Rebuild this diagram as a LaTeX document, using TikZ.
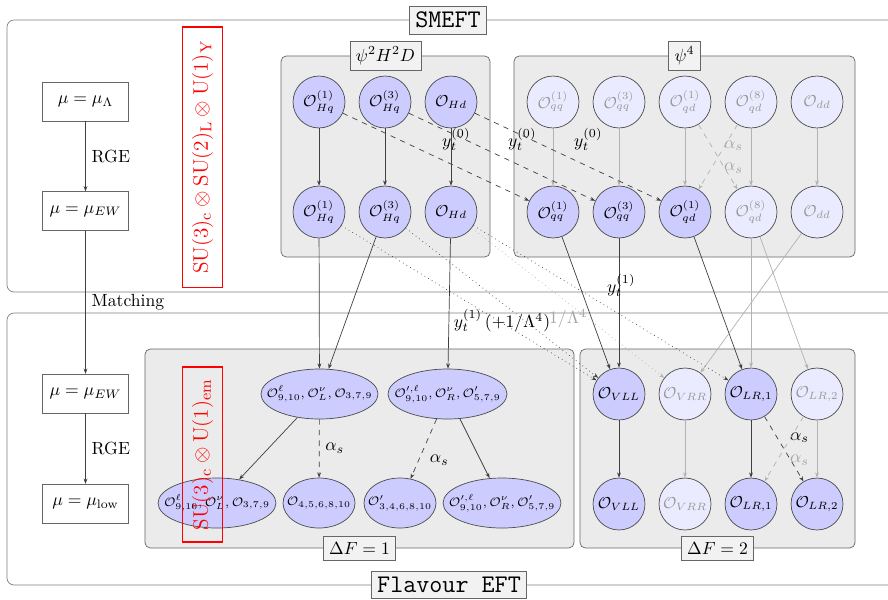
\documentclass[tikz,border=0pt]{standalone}
\usetikzlibrary{shapes.geometric,arrows.meta}
\newcommand\fitlbl[1]{\makebox[0pt]{#1}}
\begin{document}
\begin{tikzpicture}[x=0.568pt,y=-0.568pt,
  op/.style={circle, draw=black!70, fill=blue!20, minimum size=29.5pt, inner sep=0pt, font=\small},
  opoff/.style={op, fill=blue!8, text=black!40},
  grp/.style={ellipse, draw=black!70, fill=blue!20, minimum height=28.4pt, inner sep=0pt, font=\scriptsize},
  mubox/.style={draw=black!60, fill=white, minimum width=48.6pt, minimum height=22pt},
  frame/.style={draw=black!50, rounded corners=4pt},
  panel/.style={draw=black!60, fill=black!8, rounded corners=3pt, inner sep=0pt},
  tag/.style={draw=black!60, fill=black!5},
  gauge/.style={draw=red, text=red, rotate=90, minimum height=22.2pt, inner sep=0pt, line width=0.6pt, font=\fontsize{12.5}{15}\selectfont},
  flow/.style={-{Stealth[length=3pt,width=2.2pt]}, draw=black!75},
  flowoff/.style={flow, draw=black!30},
  off/.style={text=black!35}]
\clip (0,0) rectangle (888,599);

% outer frames for the two theories
\draw[frame] (7,20) rectangle (905,292);
\draw[frame] (7,313) rectangle (905,585);

% operator class panels
\node[panel, minimum width=118.7pt, minimum height=114.2pt] (psiA) at (385.5,156.5) {};
\node[panel, minimum width=193.7pt, minimum height=114.2pt] (psiB) at (684.5,156.5) {};
\node[panel, minimum width=243.7pt, minimum height=113pt] (dfA) at (359.5,448.5) {};
\node[panel, minimum width=156.2pt, minimum height=113pt] (dfB) at (717.5,448.5) {};

% scale boxes
\node[mubox] (muL) at (85.5,101.5) {$\mu=\mu_\Lambda$};
\node[mubox] (muEWa) at (85.5,211) {$\mu=\mu_{EW}$};
\node[mubox] (muEWb) at (85.5,393.5) {$\mu=\mu_{EW}$};
\node[mubox] (mulow) at (85.5,503.5) {$\mu=\mu_{\mathrm{low}}$};
\draw[flow] (muL) -- (muEWa) node[midway, right] {RGE};
\draw[flow] (muEWa) -- (muEWb) node[midway, right] {Matching};
\draw[flow] (muEWb) -- (mulow) node[midway, right] {RGE};

% SMEFT operators
\node[op] (Hq1t) at (319,102) {$\mathcal{O}_{Hq}^{(1)}$};
\node[op] (Hq3t) at (385,102) {$\mathcal{O}_{Hq}^{(3)}$};
\node[op] (Hdt)  at (451,102) {$\mathcal{O}_{Hd}$};
\node[opoff] (qq1t) at (553,102) {$\mathcal{O}_{qq}^{(1)}$};
\node[opoff] (qq3t) at (619,102) {$\mathcal{O}_{qq}^{(3)}$};
\node[opoff] (qd1t) at (685,102) {$\mathcal{O}_{qd}^{(1)}$};
\node[opoff] (qd8t) at (751,102) {$\mathcal{O}_{qd}^{(8)}$};
\node[opoff] (ddt)  at (817,102) {$\mathcal{O}_{dd}$};
\node[op] (Hq1b) at (319,212) {$\mathcal{O}_{Hq}^{(1)}$};
\node[op] (Hq3b) at (385,212) {$\mathcal{O}_{Hq}^{(3)}$};
\node[op] (Hdb)  at (451,212) {$\mathcal{O}_{Hd}$};
\node[op] (qq1b) at (553,212) {$\mathcal{O}_{qq}^{(1)}$};
\node[op] (qq3b) at (619,212) {$\mathcal{O}_{qq}^{(3)}$};
\node[op] (qd1b) at (685,212) {$\mathcal{O}_{qd}^{(1)}$};
\node[opoff] (qd8b) at (751,212) {$\mathcal{O}_{qd}^{(8)}$};
\node[opoff] (ddb)  at (817,212) {$\mathcal{O}_{dd}$};

% Delta F = 1 operators
\node[grp, minimum width=66.5pt] (E1) at (319.5,394) {\fitlbl{$\mathcal{O}^{\ell}_{9,10}, \mathcal{O}^{\nu}_{L}, \mathcal{O}_{3,7,9}$}};
\node[grp, minimum width=67.6pt] (E2) at (447.5,394) {\fitlbl{$\mathcal{O}^{\prime,\ell}_{9,10}, \mathcal{O}^{\nu}_{R}, \mathcal{O}'_{5,7,9}$}};
\node[grp, minimum width=67pt] (E3) at (217,503) {\fitlbl{$\mathcal{O}^{\ell}_{9,10}, \mathcal{O}^{\nu}_{L}, \mathcal{O}_{3,7,9}$}};
\node[grp, minimum width=40.9pt] (E4) at (319,503) {\fitlbl{$\mathcal{O}_{4,5,6,8,10}$}};
\node[grp, minimum width=40.9pt] (E5) at (400,503) {\fitlbl{$\mathcal{O}'_{3,4,6,8,10}$}};
\node[grp, minimum width=67pt] (E6) at (502,503) {\fitlbl{$\mathcal{O}^{\prime,\ell}_{9,10}, \mathcal{O}^{\nu}_{R}, \mathcal{O}'_{5,7,9}$}};

% Delta F = 2 operators
\node[op] (VLLt) at (619,394) {$\mathcal{O}_{VLL}$};
\node[opoff] (VRRt) at (685,394) {$\mathcal{O}_{VRR}$};
\node[op] (LR1t) at (751,394) {$\mathcal{O}_{LR,1}$};
\node[opoff] (LR2t) at (817,394) {$\mathcal{O}_{LR,2}$};
\node[op] (VLLb) at (619,504) {$\mathcal{O}_{VLL}$};
\node[opoff] (VRRb) at (685,504) {$\mathcal{O}_{VRR}$};
\node[op] (LR1b) at (751,504) {$\mathcal{O}_{LR,1}$};
\node[op] (LR2b) at (817,504) {$\mathcal{O}_{LR,2}$};

% SMEFT running
\draw[flow] (Hq1t) -- (Hq1b);
\draw[flow] (Hq3t) -- (Hq3b);
\draw[flow] (Hdt) -- (Hdb);
\draw[flowoff] (qq1t) -- (qq1b);
\draw[flowoff] (qq3t) -- (qq3b);
\draw[flowoff] (qd1t) -- (qd1b);
\draw[flowoff] (qd8t) -- (qd8b);
\draw[flowoff] (ddt) -- (ddb);
\draw[flowoff, dashed] (qd1t) -- (qd8b) node[midway, above right, off] {$\alpha_s$};
\draw[flowoff, dashed] (qd8t) -- (qd1b) node[midway, below right, off] {$\alpha_s$};
\draw[flow, dashed] (Hq1t) -- (qq1b) node[midway, above right] {$y_t^{(0)}$};
\draw[flow, dashed] (Hq3t) -- (qq3b) node[midway, above right] {$y_t^{(0)}$};
\draw[flow, dashed] (Hdt) -- (qd1b) node[midway, above right] {$y_t^{(0)}$};

% matching onto the flavour EFT
\draw[flow] (Hq1b) -- (E1);
\draw[flow] (Hq3b) -- (E1);
\draw[flow] (Hdb) -- (E2);
\draw[flow] (qq1b) -- (VLLt);
\draw[flow] (qq3b) -- (VLLt);
\draw[flow] (qd1b) -- (LR1t);
\draw[flowoff] (qd8b) -- (LR1t);
\draw[flowoff] (qd8b) -- (LR2t);
\draw[flowoff] (ddb) -- (VRRt);
\draw[flow, dotted] (Hq1b) -- (VLLt);
\draw[flow, dotted] (Hq3b) -- (VLLt) node[midway, below] {$y_t^{(1)}\,(+1/\Lambda^4)$};
\draw[flow, dotted] (Hdb) -- (LR1t) node[midway, above right] {$y_t^{(1)}$};
\draw[flowoff, dotted] (Hdb) -- (VRRt) node[midway, below, off] {$1/\Lambda^4$};

% Delta F = 1 running
\draw[flow] (E1) -- (E3);
\draw[flow, dashed] (E1) -- (E4) node[midway, right] {$\alpha_s$};
\draw[flow, dashed] (E2) -- (E5) node[midway, below right] {$\alpha_s$};
\draw[flow] (E2) -- (E6);

% Delta F = 2 running
\draw[flow] (VLLt) -- (VLLb);
\draw[flowoff] (VRRt) -- (VRRb);
\draw[flow] (LR1t) -- (LR1b);
\draw[flowoff] (LR2t) -- (LR2b);
\draw[flow, dashed] (LR1t) -- (LR2b) node[midway, above right] {$\alpha_s$};
\draw[flowoff, dashed] (LR2t) -- (LR1b) node[midway, below right, off] {$\alpha_s$};

% gauge groups
\node[gauge, minimum width=147.7pt] (symA) at (202.5,157) {$\mathrm{SU(3)_c\otimes SU(2)_L\otimes U(1)_Y}$};
\node[gauge, minimum width=99.4pt] (symB) at (202.5,454.5) {$\mathrm{SU(3)_c\otimes U(1)_{em}}$};

% panel and frame titles
\node[tag] (tpsiA) at (psiA.north) {$\psi^2H^2D$};
\node[tag] (tpsiB) at (psiB.north) {$\psi^4$};
\node[tag] (tdfA) at (dfA.south) {$\Delta F=1$};
\node[tag] (tdfB) at (dfB.south) {$\Delta F=2$};
\node[tag, font=\Large\ttfamily] (tsmeft) at (448,20) {SMEFT};
\node[tag, font=\Large\ttfamily] (tfeft) at (449,585) {Flavour EFT};
\end{tikzpicture}
\end{document}
